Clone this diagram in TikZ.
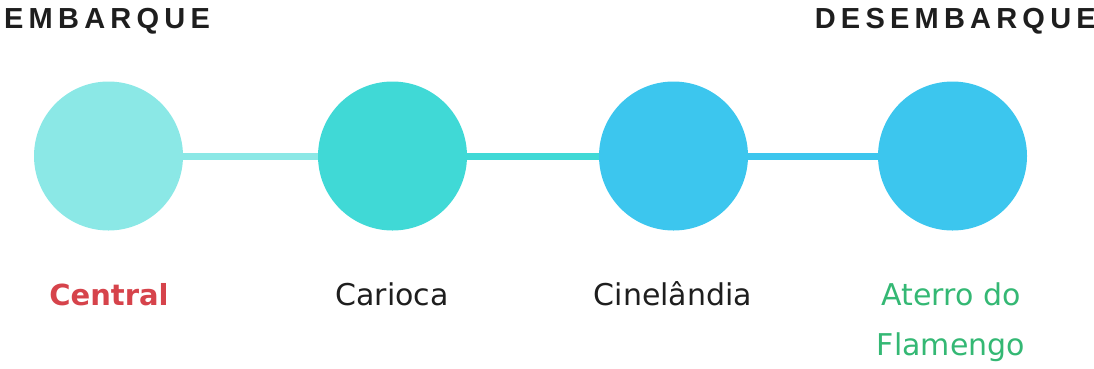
\documentclass[tikz,border=0pt]{standalone}
\usepackage{fontspec}
\setmainfont{DejaVu Sans}
\newfontfamily\headfont[LetterSpace=18]{Liberation Sans}
\definecolor{cA}{HTML}{8BE8E6}
\definecolor{cB}{HTML}{40D9D6}
\definecolor{cC}{HTML}{3CC6EE}
\definecolor{tred}{HTML}{D6434B}
\definecolor{tgreen}{HTML}{34B874}
\definecolor{tdark}{HTML}{1E1E1E}
\tikzset{
  station/.style={circle, minimum size=149pt, inner sep=0pt, draw=none},
  link/.style={line width=7pt},
  head/.style={inner sep=0pt, font=\headfont\bfseries\fontsize{29}{30}\selectfont, text=tdark},
  lbl/.style={inner sep=0pt, font=\fontsize{30}{50}\selectfont, align=center, anchor=base}
}
\begin{document}
\begin{tikzpicture}[x=1pt,y=-1pt]
\useasboundingbox (0,0) rectangle (1094,368);
\node[station, fill=cA] (s1) at (108.5,156) {};
\node[station, fill=cB] (s2) at (392.5,156) {};
\node[station, fill=cC] (s3) at (673.5,156) {};
\node[station, fill=cC] (s4) at (952.5,156) {};
\draw[link, cA] (s1.east) -- (s2.west);
\draw[link, cB] (s2.east) -- (s3.west);
\draw[link, cC] (s3.east) -- (s4.west);
\node[head, anchor=base west] (h1) at (4,28) {EMBARQUE};
\node[head, anchor=base east] (h2) at (1096,28) {DESEMBARQUE};
\node[lbl, text=tred, font=\bfseries\fontsize{29}{50}\selectfont] (l1) at (109,305) {Central};
\node[lbl, text=tdark] (l2) at (392,305) {Carioca};
\node[lbl, text=tdark] (l3) at (673,305) {Cinelândia};
\node[lbl, text=tgreen] (l4) at (951,305) {Aterro do};
\node[lbl, text=tgreen] (l5) at (951,355) {Flamengo};
\end{tikzpicture}
\end{document}
